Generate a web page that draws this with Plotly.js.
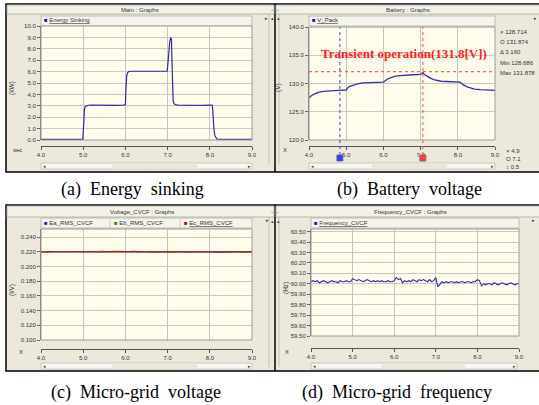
<!DOCTYPE html>
<html><head><meta charset="utf-8">
<script src="https://cdn.plot.ly/plotly-3.0.1.min.js"></script>
<style>html,body{margin:0;padding:0;background:#fff;}#chart{width:539px;height:405px;}</style>
</head><body><div id="chart"></div>
<script>
// ---------- data ----------
// (a) Energy sinking [kW]
const timeA = [4.00,4.20,4.40,4.60,4.80,4.99,5.00,5.01,5.02,5.03,5.05,5.08,5.12,5.20,5.35,5.50,5.65,5.80,5.95,6.00,6.01,6.02,6.03,6.05,6.08,6.12,6.25,6.40,6.55,6.70,6.85,6.99,7.01,7.03,7.05,7.07,7.09,7.10,7.11,7.12,7.13,7.15,7.18,7.25,7.40,7.55,7.70,7.85,8.00,8.06,8.07,8.08,8.10,8.12,8.14,8.17,8.25,8.40,8.55,8.70,8.85,9.00];
const energySinking = [0.05,0.04,0.06,0.05,0.04,0.05,0.6,1.6,2.3,2.7,2.95,3.02,3.05,3.06,3.04,3.07,3.05,3.04,3.06,3.1,4.2,5.1,5.6,5.9,6.0,6.03,6.02,6.05,6.03,6.04,6.02,6.03,6.8,7.9,8.6,8.95,8.9,7.5,5.8,4.2,3.5,3.2,3.1,3.06,3.04,3.06,3.05,3.04,3.06,3.05,2.6,1.8,0.9,0.4,0.2,0.08,0.05,0.04,0.06,0.05,0.04,0.05];
// (b) Battery voltage V_Pack [V]
const timeB = [4.00,4.05,4.10,4.20,4.30,4.45,4.60,4.80,5.00,5.02,5.05,5.10,5.20,5.30,5.45,5.60,5.80,6.00,6.05,6.10,6.20,6.30,6.45,6.60,6.80,7.00,7.04,7.06,7.10,7.17,7.25,7.35,7.45,7.55,7.70,7.90,8.06,8.10,8.15,8.25,8.35,8.45,8.60,8.80,9.00];
const vPack = [127.5,127.8,128.0,128.3,128.5,128.65,128.75,128.8,128.85,129.1,129.3,129.5,129.75,129.95,130.1,130.15,130.2,130.25,130.5,130.75,131.05,131.25,131.4,131.5,131.55,131.6,131.75,131.95,131.6,131.3,131.0,130.7,130.5,130.4,130.35,130.3,130.25,130.05,129.75,129.4,129.15,129.0,128.9,128.85,128.8];
const cursorX1 = 4.83, cursorX2 = 7.06, cursorLevel = 132.1;
const transientLabel = 'Transient operation(131.8[V])';
const infoRight = ['\u00d7 128.714','O 131.874','\u0394 3.160','Min 128.686','Max 131.878'];
const infoBottom = ['\u00d7 4.9','O 7.1','\u2195 0.5'];
// (c) Micro-grid voltage [kV]
const timeC = [4.0,4.2,4.4,4.6,4.8,5.0,5.2,5.4,5.6,5.8,6.0,6.2,6.4,6.6,6.8,7.0,7.2,7.4,7.6,7.8,8.0,8.2,8.4,8.6,8.8,9.0];
const eaRms = [0.2201,0.2200,0.2199,0.2201,0.2200,0.2202,0.2200,0.2199,0.2200,0.2201,0.2203,0.2205,0.2201,0.2200,0.2199,0.2200,0.2201,0.2199,0.2200,0.2201,0.2200,0.2194,0.2199,0.2200,0.2201,0.2200];
const ebRms = [0.2200,0.2201,0.2200,0.2202,0.2201,0.2200,0.2201,0.2200,0.2201,0.2200,0.2204,0.2206,0.2200,0.2201,0.2200,0.2201,0.2200,0.2200,0.2202,0.2200,0.2201,0.2195,0.2200,0.2201,0.2200,0.2201];
const ecRms = [0.2200,0.2200,0.2201,0.2200,0.2199,0.2201,0.2200,0.2200,0.2199,0.2200,0.2202,0.2204,0.2200,0.2199,0.2200,0.2200,0.2199,0.2200,0.2200,0.2199,0.2200,0.2196,0.2200,0.2199,0.2200,0.2200];
// (d) Micro-grid frequency [Hz]
const timeD = [4.00,4.05,4.10,4.15,4.20,4.25,4.30,4.35,4.40,4.45,4.50,4.55,4.60,4.65,4.70,4.75,4.80,4.85,4.90,4.95,5.00,5.05,5.10,5.15,5.20,5.25,5.30,5.35,5.40,5.45,5.50,5.55,5.60,5.65,5.70,5.75,5.80,5.85,5.90,5.95,6.00,6.05,6.10,6.15,6.20,6.25,6.30,6.35,6.40,6.45,6.50,6.55,6.60,6.65,6.70,6.75,6.80,6.85,6.90,6.95,7.00,7.05,7.10,7.15,7.20,7.25,7.30,7.35,7.40,7.45,7.50,7.55,7.60,7.65,7.70,7.75,7.80,7.85,7.90,7.95,8.00,8.05,8.10,8.15,8.20,8.25,8.30,8.35,8.40,8.45,8.50,8.55,8.60,8.65,8.70,8.75,8.80,8.85,8.90,8.95,9.00];
const frequency = [60.02,60.03,60.02,60.03,60.01,60.02,60.03,60.02,60.01,60.02,60.03,60.02,60.02,60.01,60.03,60.02,60.02,60.03,60.02,60.02,60.05,60.04,60.03,60.04,60.03,60.02,60.03,60.04,60.03,60.02,60.03,60.02,60.03,60.02,60.03,60.02,60.02,60.03,60.02,60.02,60.03,60.06,60.04,60.05,60.01,60.03,60.02,60.03,60.02,60.04,60.03,60.02,60.04,60.03,60.04,60.03,60.02,60.04,60.02,60.03,60.06,59.97,60.00,60.02,60.01,60.02,60.01,60.02,60.02,60.01,60.02,60.01,60.02,60.02,60.01,60.02,60.02,60.01,60.02,60.02,60.04,60.03,59.98,60.00,59.99,60.00,60.00,59.99,60.01,60.00,59.99,60.00,60.01,60.00,59.99,60.00,60.01,60.00,59.99,60.00,60.00];
const captions = ['(a)\u00a0 Energy\u00a0 sinking','(b)\u00a0 Battery\u00a0 voltage','(c)\u00a0 Micro-grid\u00a0 voltage','(d)\u00a0 Micro-grid\u00a0 frequency'];

// ---------- layout helpers ----------
const W = 539, H = 405;
const px = v => v / W, py = v => 1 - v / H;
const UI = 'Liberation Sans, Arial, sans-serif';
const GRAY = '#ECE9DC', CREAM = '#FFFCEC', LINE = '#2c2ca0';
const tf = {family: UI, size: 6, color: '#333'};

const shapes = [];
const ann = [];
function R(x0, y0, x1, y1, fill, line, lw, layer) {
  shapes.push({type:'rect', xref:'paper', yref:'paper', x0:px(x0), x1:px(x1), y0:py(y1), y1:py(y0),
    fillcolor: fill || 'rgba(0,0,0,0)', line:{color: line || 'rgba(0,0,0,0)', width: lw === undefined ? 1 : lw}, layer: layer || 'below'});
}
function L(x0, y0, x1, y1, color, lw, layer) {
  shapes.push({type:'line', xref:'paper', yref:'paper', x0:px(x0), x1:px(x1), y0:py(y0), y1:py(y1),
    line:{color: color, width: lw || 1}, layer: layer || 'below'});
}
function T(text, x, y, opt) {
  ann.push(Object.assign({text: text, x: px(x), y: py(y), xref:'paper', yref:'paper', showarrow:false,
    xanchor:'center', yanchor:'middle', font: tf}, opt || {}));
}

// panel frames
R(6, 4, 541, 172, GRAY, '#000', 1.5);
R(6, 205, 541, 371, GRAY, '#000', 1.5);
L(275, 4, 275, 172, '#000', 1.5);
L(275, 205, 275, 371, '#000', 1.5);
// title bars
[[4,14],[205,217]].forEach(([a,b]) => {
  R(7, a+1, 274, b, '#F3F1E8', '#A8A8A0', 0.8);
  R(276, a+1, 540, b, '#F3F1E8', '#A8A8A0', 0.8);
  L(269, b, 269, b + 150, '#B8B6AA', 0.8);
  L(279, b, 279, b + 150, '#B8B6AA', 0.8);
});
T('Main : Graphs', 140, 9.5);
T('Battery : Graphs', 408, 9.5);
T('Voltage_CVCF : Graphs', 142, 211.5);
T('Frequency_CVCF : Graphs', 410, 211.5);
[[272,10],[278,10],[272,212],[278,212]].forEach(([x,y]) => T('-', x, y, {font:{family:UI,size:6,color:'#333'}}));
[[272,18],[278,18],[272,221],[278,221]].forEach(([x,y]) => T('\u25b4', x, y, {font:{family:UI,size:5,color:'#444'}}));
[[266,18],[535,18],[267,220],[533,220]].forEach(([x,y]) => T('\u25b8', x, y, {font:{family:UI,size:5,color:'#333'}}));

// plot areas
const P = {
  a: {x0:41, x1:252, y0:26, y1:140, ax:146, lg:[16,26]},
  b: {x0:309, x1:495, y0:27, y1:140, ax:146, lg:[16,26]},
  c: {x0:41, x1:252, y0:229, y1:340, ax:349, lg:[218,228]},
  d: {x0:311, x1:519, y0:229, y1:336, ax:348, lg:[218,228]}
};
Object.values(P).forEach(p => {
  R(p.x0, p.lg[0], p.x1, p.lg[1], '#F5F4EC', '#B0AEA4', 0.8);
  R(p.x0, p.y0, p.x1, p.y1, CREAM, 'rgba(0,0,0,0)', 0);
  R(p.x0, p.y0, p.x1, p.y1, null, '#9a9a9a', 1, 'above');
});
// horizontal scroll bars
[[41,252,163,169,112,197],[309,495,163,169,372,447],[41,252,363,369,112,197],[311,517,363,369,382,465]].forEach(s => {
  R(s[0], s[2], s[1], s[3], '#F8F7F2', '#BDBBB0', 0.8);
  R(s[4], s[2], s[5], s[3], '#E9E7DC', 'rgba(0,0,0,0)', 0);
  T('\u25c2', s[0] + 3, (s[2] + s[3]) / 2, {font:{family:UI,size:4.5,color:'#444'}});
  T('\u25b8', s[1] - 3, (s[2] + s[3]) / 2, {font:{family:UI,size:4.5,color:'#444'}});
});
// legends
const sq = c => '<span style="color:' + c + '">\u25a0</span> ';
const ul = t => '<span style="text-decoration:underline">' + t + '</span>';
T(sq('#1a1a9c') + ul('Energy Sinking'), 42, 20.5, {xanchor:'left'});
T(sq('#1a1a9c') + ul('V_Pack'), 310, 20.5, {xanchor:'left'});
T(sq('#1a2a9c') + 'Ea_RMS_CVCF', 42, 222.5, {xanchor:'left'});
T(sq('#1a9a1a') + 'Eb_RMS_CVCF', 112, 222.5, {xanchor:'left'});
T(sq('#a01818') + ul('Ec_RMS_CVCF'), 182, 222.5, {xanchor:'left'});
L(110, 218, 110, 228, '#C8C6BC', 0.8); L(180, 218, 180, 228, '#C8C6BC', 0.8);
T(sq('#1a1a9c') + ul('Frequency_CVCF'), 312, 222.5, {xanchor:'left'});

// axis titles and labels
const rot = {textangle:-90, font:{family:UI, size:6.5, color:'#333'}};
T('(kW)', 12, 88, rot);
T('(V)', 278, 88, rot);
T('(kV)', 12, 290, rot);
T('(Hz)', 286, 288, rot);
T('sec', 17, 150);
T('X', 285, 150);
T('X', 21, 352);
T('X', 287, 352);

// battery info texts
infoRight.forEach((t, i) => T(t, 498, 32 + i * 10.2, {xanchor:'left'}));
infoBottom.forEach((t, i) => T(t, 504, 151 + i * 8, {xanchor:'left'}));
T('<b>' + transientLabel + '</b>', 404, 53, {font:{family:'Liberation Serif, Times New Roman, serif', size:13, color:'#FF2020'}});

// cursors in (b)
shapes.push({type:'line', xref:'x2', yref:'paper', x0:cursorX1, x1:cursorX1, y0:py(155), y1:py(27), line:{color:'#3040ff', width:1, dash:'dot'}, layer:'above'});
shapes.push({type:'line', xref:'x2', yref:'paper', x0:cursorX2, x1:cursorX2, y0:py(155), y1:py(27), line:{color:'#ff6060', width:1.2, dash:'dot'}, layer:'above'});
shapes.push({type:'line', xref:'paper', yref:'y2', x0:px(309), x1:px(495), y0:cursorLevel, y1:cursorLevel, line:{color:'#ff6060', width:1.2, dash:'dot'}, layer:'above'});
[[cursorX1,'#3040ff'],[cursorX2,'#ff4040']].forEach(([cx,c]) => {
  shapes.push({type:'rect', xref:'x2', xsizemode:'pixel', xanchor:cx, x0:-3, x1:3, yref:'paper', y0:py(161), y1:py(155), fillcolor:c, line:{color:'#666', width:0.8}, layer:'above'});
});

// captions
const capFont = {family:'Liberation Serif, Times New Roman, serif', size:18, color:'#000'};
T(captions[0], 132, 189, {font: capFont});
T(captions[1], 409, 189, {font: capFont});
T(captions[2], 136, 392, {font: capFont});
T(captions[3], 397, 392, {font: capFont});

// ---------- axes ----------
function xMain(p, anchor) {
  return {domain:[px(p.x0), px(p.x1)], range:[4,9], dtick:1, anchor: anchor, showticklabels:false, ticks:'',
    showline:false, zeroline:false, gridcolor:'#c4c4c4', gridwidth:1, fixedrange:true};
}
function xOver(p, over) {
  return {overlaying: over, anchor:'free', position: py(p.ax), range:[4,9], dtick:1, tickformat:'.1f',
    ticks:'outside', ticklen:3, tickcolor:'#555', showline:true, linecolor:'#555', linewidth:1,
    showgrid:false, zeroline:false, tickfont: tf, fixedrange:true};
}
function yAx(p, anchor, range, dtick, tick0, fmt) {
  return {domain:[py(p.y1), py(p.y0)], anchor: anchor, range: range, dtick: dtick, tick0: tick0, tickformat: fmt,
    ticks:'outside', ticklen:3, tickcolor:'#666', showline:true, linecolor:'#777', linewidth:1,
    gridcolor:'#c9c9c9', gridwidth:1, zeroline:false, tickfont: tf, fixedrange:true};
}

const traces = [
  {x: timeA, y: energySinking, xaxis:'x', yaxis:'y', mode:'lines', line:{color: LINE, width:1.2}},
  {x: timeB, y: vPack, xaxis:'x2', yaxis:'y2', mode:'lines', line:{color:'#3434a4', width:1.3}},
  {x: timeC, y: eaRms, xaxis:'x3', yaxis:'y3', mode:'lines', line:{color:'#2040c0', width:1.3}},
  {x: timeC, y: ebRms, xaxis:'x3', yaxis:'y3', mode:'lines', line:{color:'#1a9a1a', width:1.3, dash:'dash'}},
  {x: timeC, y: ecRms, xaxis:'x3', yaxis:'y3', mode:'lines', line:{color:'#b02020', width:1.3}},
  {x: timeD, y: frequency, xaxis:'x4', yaxis:'y4', mode:'lines', line:{color: LINE, width:1.1}},
  {x: [], y: [], xaxis:'x5', yaxis:'y', mode:'lines'},
  {x: [], y: [], xaxis:'x6', yaxis:'y2', mode:'lines'},
  {x: [], y: [], xaxis:'x7', yaxis:'y3', mode:'lines'},
  {x: [], y: [], xaxis:'x8', yaxis:'y4', mode:'lines'}
];

const layout = {
  width: W, height: H, autosize:false, margin:{l:0, r:0, t:0, b:0, pad:0},
  paper_bgcolor:'#fff', plot_bgcolor:'rgba(0,0,0,0)', showlegend:false,
  xaxis: xMain(P.a, 'y'), xaxis2: xMain(P.b, 'y2'), xaxis3: xMain(P.c, 'y3'), xaxis4: xMain(P.d, 'y4'),
  xaxis5: xOver(P.a, 'x'), xaxis6: xOver(P.b, 'x2'), xaxis7: xOver(P.c, 'x3'), xaxis8: xOver(P.d, 'x4'),
  yaxis: yAx(P.a, 'x', [0,10], 1, 0, '.1f'),
  yaxis2: yAx(P.b, 'x2', [120,140], 5, 120, '.1f'),
  yaxis3: yAx(P.c, 'x3', [0.1,0.251], 0.02, 0.1, '.3f'),
  yaxis4: yAx(P.d, 'x4', [59.5,60.525], 0.1, 59.5, '.2f'),
  shapes: shapes, annotations: ann
};
Plotly.newPlot('chart', traces, layout, {staticPlot:true, displayModeBar:false});
</script></body></html>
